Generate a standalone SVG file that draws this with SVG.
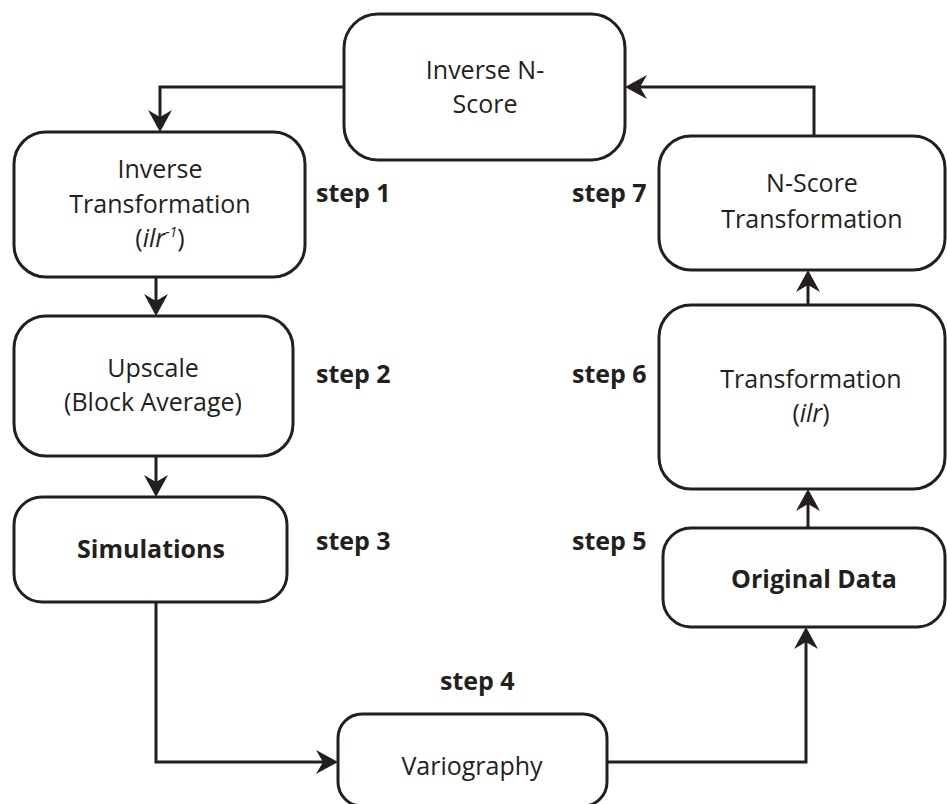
<svg xmlns="http://www.w3.org/2000/svg" width="947" height="804" viewBox="0 0 947 804">
<style>
.box{fill:#fff;stroke:#231f20;stroke-width:3}
.lbl{font-family:"Open Sans","Liberation Sans",sans-serif;font-weight:400;font-size:25px;fill:#231f20;text-anchor:middle}
.b{font-weight:700}
.step{font-family:"Open Sans","Liberation Sans",sans-serif;font-weight:700;font-size:25px;fill:#231f20}
.it{font-style:italic}
.con{fill:none;stroke:#231f20;stroke-width:3;marker-end:url(#arr)}
</style>
<defs>
<marker id="arr" viewBox="0 -13 24 26" markerWidth="24" markerHeight="26" refX="10" refY="0" orient="auto" markerUnits="userSpaceOnUse">
<path d="M22,0 L0,-12 L7,0 L0,12 Z" fill="#231f20"/>
</marker>
</defs>
<rect width="947" height="804" fill="#fff"/>
<g id="connectors">
<path class="con" d="M344,87 H160 V120"/>
<path class="con" d="M156,277 V304"/>
<path class="con" d="M156,456 V485"/>
<path class="con" d="M156,602 V762 H326"/>
<path class="con" d="M607,762 H806 V639"/>
<path class="con" d="M808,528 V501"/>
<path class="con" d="M808,305 V282"/>
<path class="con" d="M814,136 V87 H637"/>
</g>
<g id="inverse-nscore">
<rect class="box" x="344" y="14" width="281" height="146" rx="34"/>
<text class="lbl" x="485" y="79">Inverse N-</text>
<text class="lbl" x="485" y="113">Score</text>
</g>
<g id="inverse-transformation">
<rect class="box" x="14" y="132" width="291" height="145" rx="32"/>
<text class="lbl" x="160" y="178">Inverse</text>
<text class="lbl" x="160" y="213">Transformation</text>
<text class="lbl" x="160" y="247">(<tspan class="it">ilr</tspan><tspan class="it" font-size="14" dy="-10">-1</tspan><tspan dy="10">)</tspan></text>
</g>
<g id="upscale">
<rect class="box" x="14" y="316" width="279" height="140" rx="32"/>
<text class="lbl" x="153" y="377">Upscale</text>
<text class="lbl" x="153" y="411">(Block Average)</text>
</g>
<g id="simulations">
<rect class="box" x="14" y="497" width="273" height="105" rx="28"/>
<text class="lbl b" x="151" y="558">Simulations</text>
</g>
<g id="variography">
<rect class="box" x="338" y="714" width="269" height="92" rx="24"/>
<text class="lbl" x="472" y="775">Variography</text>
</g>
<g id="original-data">
<rect class="box" x="663" y="528" width="282" height="99" rx="28"/>
<text class="lbl b" x="814" y="588">Original Data</text>
</g>
<g id="transformation">
<rect class="box" x="659" y="305" width="286" height="184" rx="32"/>
<text class="lbl" x="811" y="388">Transformation</text>
<text class="lbl" x="811" y="422">(<tspan class="it">ilr</tspan>)</text>
</g>
<g id="nscore-transformation">
<rect class="box" x="659" y="136" width="286" height="134" rx="32"/>
<text class="lbl" x="812" y="192">N-Score</text>
<text class="lbl" x="812" y="228">Transformation</text>
</g>
<g id="steps">
<text class="step" x="316" y="202">step 1</text>
<text class="step" x="316" y="383">step 2</text>
<text class="step" x="316" y="550">step 3</text>
<text class="step" x="440" y="690">step 4</text>
<text class="step" x="572" y="550">step 5</text>
<text class="step" x="572" y="383">step 6</text>
<text class="step" x="572" y="202">step 7</text>
</g>
</svg>
